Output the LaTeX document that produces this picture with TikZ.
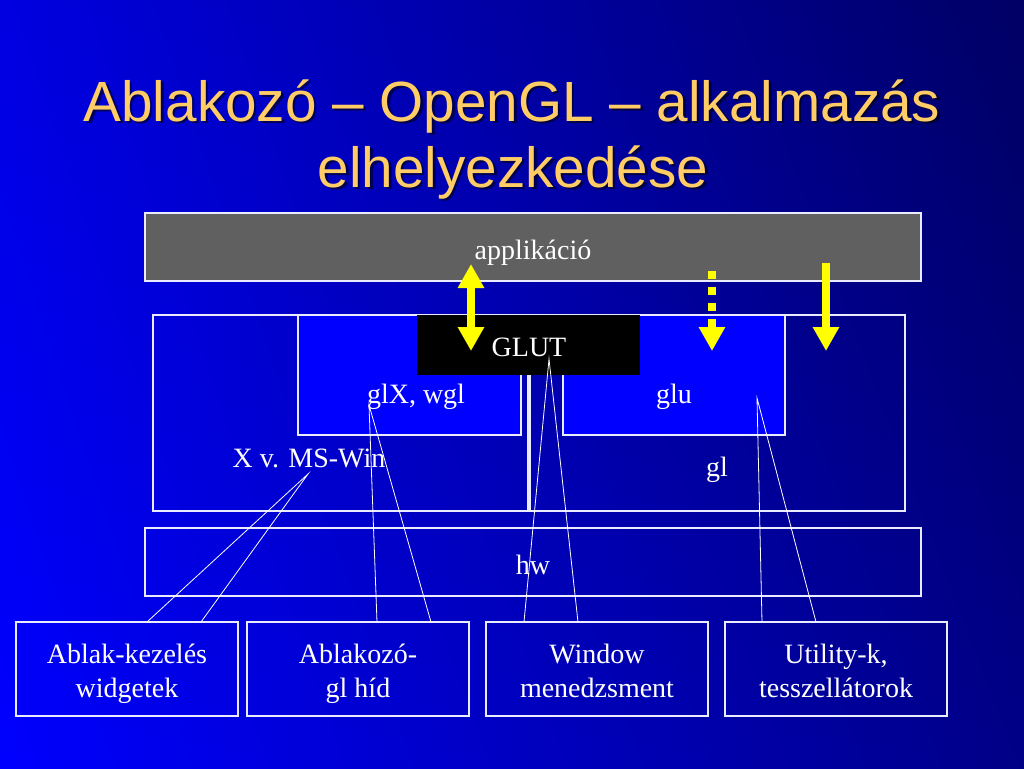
\documentclass[tikz,border=0pt]{standalone}
\usepackage{fontspec}
\setmainfont{Liberation Serif}
\newfontfamily\titlefont{Liberation Sans}
\usetikzlibrary{arrows.meta,shadings}

\definecolor{bgtl}{RGB}{0,0,225}
\definecolor{bgtr}{RGB}{0,0,100}
\definecolor{bgbl}{RGB}{0,0,255}
\definecolor{bgbr}{RGB}{0,0,135}
\definecolor{titleorange}{RGB}{255,204,102}
\definecolor{appgray}{RGB}{96,96,96}
\definecolor{boxblue}{RGB}{0,0,255}
\definecolor{arrowyellow}{RGB}{255,255,0}

\begin{document}
\begin{tikzpicture}[x=0.75pt, y=-0.75pt, line join=miter,
  box/.style={draw=white!92!blue, line width=0.9pt},
  lbl/.style={text=white, font=\fontsize{21}{25.5}\selectfont, inner sep=0pt},
  callout/.style={draw=white, line width=0.6pt},
  ttl/.style={font=\titlefont\fontsize{42.5}{50}\selectfont, anchor=base, inner sep=0pt},
  yarrow/.style={draw=arrowyellow, line width=6pt, line cap=butt},
  ytip/.tip={Triangle[width=18.75pt, length=18pt]}]

\useasboundingbox (0,0) rectangle (1024,768);

% ----------------------------
% BACKGROUND
% ----------------------------
\shade[upper left=bgtl, upper right=bgtr, lower left=bgbl, lower right=bgbr]
  (0,0) rectangle (1024,768);

% ----------------------------
% TITLE
% ----------------------------
\node[ttl, text=black, opacity=0.55] (title1s) at (514.5,123.5) {Ablakozó – OpenGL – alkalmazás};
\node[ttl, text=black, opacity=0.55] (title2s) at (515.5,189.5) {elhelyezkedése};
\node[ttl, text=titleorange] (title1) at (512,121) {Ablakozó – OpenGL – alkalmazás};
\node[ttl, text=titleorange] (title2) at (513,187) {elhelyezkedése};

% ----------------------------
% LAYERS
% ----------------------------
\draw[box, fill=appgray] (145,213) rectangle (921,281);
\node[lbl] (app) at (533,253) {applikáció};

\draw[box] (153,315) rectangle (528,511);
\draw[box] (530,315) rectangle (905,511);
\draw[box, fill=boxblue] (298,315) rectangle (521,435);
\draw[box, fill=boxblue] (563,315) rectangle (785,435);
\fill[black] (417,315) rectangle (640,375);

\node[lbl] (glut) at (529,347) {GLUT};
\node[lbl] (glx) at (416,397) {glX, wgl};
\node[lbl] (glu) at (674,397) {glu};
\node[lbl] (xwin) at (309,458) {X v. MS-Win};
\node[lbl] (gl) at (717,470) {gl};

\draw[box] (145,528) rectangle (921,596);
\node[lbl] (hw) at (533,565) {hw};

% ----------------------------
% EXPLANATION BOXES
% ----------------------------
\foreach \name/\cx/\txt in {ablak/127/{Ablak-kezelés\\widgetek},
                            hid/358/{Ablakozó-\\gl híd},
                            wm/597/{Window\\menedzsment},
                            util/836/{Utility-k,\\tesszellátorok}} {
  \node[box, minimum width=166.5pt, minimum height=70.5pt] (\name) at (\cx,669) {};
  \node[lbl, align=center, anchor=base] (\name-txt) at (\cx,697) {\txt};
}

% ----------------------------
% CALLOUT LINES
% ----------------------------
\coordinate (xwinP) at (308,474);
\coordinate (glxP)  at (369,405);
\coordinate (glutP) at (549,359);
\coordinate (gluP)  at (757,398);

\coordinate (ablakA) at (147,622);  \coordinate (ablakB) at (201,622);
\coordinate (hidA)   at (377,622);  \coordinate (hidB)   at (431,622);
\coordinate (wmA)    at (524,622);  \coordinate (wmB)    at (578,622);
\coordinate (utilA)  at (762,622);  \coordinate (utilB)  at (816,622);

\draw[callout] (ablakA) -- (xwinP) -- (ablakB);
\draw[callout] (hidA) -- (glxP) -- (hidB);
\draw[callout] (wmA) -- (glutP) -- (wmB);
\draw[callout] (utilA) -- (gluP) -- (utilB);

% ----------------------------
% CALLS (YELLOW ARROWS)
% ----------------------------
\coordinate (callTop)  at (471,264);
\coordinate (callBot)  at (471,351);
\coordinate (gluTop)   at (712,271);
\coordinate (gluBot)   at (712,351);
\coordinate (glTop)    at (826,263);
\coordinate (glBot)    at (826,351);

\draw[yarrow, ytip-ytip] (callTop) -- (callBot);
\draw[yarrow, -ytip, dash pattern=on 6pt off 6pt] (gluTop) -- (gluBot);
\draw[yarrow, -ytip] (glTop) -- (glBot);

\end{tikzpicture}
\end{document}
